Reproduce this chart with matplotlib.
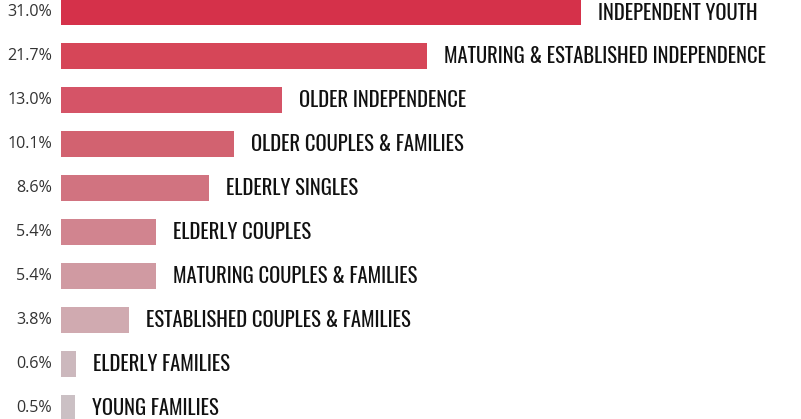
import matplotlib
matplotlib.use("Agg")
import matplotlib.pyplot as plt
from matplotlib import font_manager

categories = [
    "INDEPENDENT YOUTH",
    "MATURING & ESTABLISHED INDEPENDENCE",
    "OLDER INDEPENDENCE",
    "OLDER COUPLES & FAMILIES",
    "ELDERLY SINGLES",
    "ELDERLY COUPLES",
    "MATURING COUPLES & FAMILIES",
    "ESTABLISHED COUPLES & FAMILIES",
    "ELDERLY FAMILIES",
    "YOUNG FAMILIES",
]
shares = [31.0, 21.7, 13.0, 10.1, 8.6, 5.4, 5.4, 3.8, 0.6, 0.5]
share_labels = ["31.0%", "21.7%", "13.0%", "10.1%", "8.6%",
                "5.4%", "5.4%", "3.8%", "0.6%", "0.5%"]
bar_colors = ["#d5314a", "#d64658", "#d55467", "#d26270", "#d17380",
              "#d1848f", "#d09aa2", "#d0aab0", "#ccb8bd", "#cbc0c4"]

# pick a narrow face for the category labels if one is installed
fonts = font_manager.fontManager.ttflist
names = {f.name for f in fonts}
narrow = {f.name for f in fonts if f.stretch in ("condensed", "semi-condensed")}
label_font = dict(family="DejaVu Sans", fontweight="bold")
for cand in ["Oswald", "Roboto Condensed", "Open Sans Condensed", "Liberation Sans Narrow"]:
    if cand in names:
        label_font = dict(family=cand, fontweight="bold")
        break
else:
    if "DejaVu Sans" in narrow:
        label_font = dict(family="DejaVu Sans", fontstretch="condensed", fontweight="bold")

W, H, DPI = 801, 419, 100
fig = plt.figure(figsize=(W / DPI, H / DPI), dpi=DPI)
left_px = 61
min_px = 5.3        # bars carry a small stub past zero
px_per_unit = 16.6
ax = fig.add_axes([left_px / W, 0, 1 - left_px / W, 1])
x0 = -min_px / px_per_unit
ax.set_xlim(x0, x0 + (W - left_px) / px_per_unit)
row_px = 43.9
ax.set_ylim((H - 12.5) / row_px, -12.5 / row_px)
ax.axis("off")

ypos = list(range(len(categories)))
ax.barh(ypos, [v - x0 for v in shares], height=26 / row_px, color=bar_colors, left=x0)

cat_texts = []
for y, v, cat, lab in zip(ypos, shares, categories, share_labels):
    t = ax.annotate(cat, (v, y), xytext=(12.3, 0), textcoords="offset points",
                    ha="left", va="center", color="#111111", fontsize=13, **label_font)
    cat_texts.append(t)
    ax.annotate(lab, (x0, y), xytext=(-6.5, 0), textcoords="offset points",
                ha="right", va="center", color="#333333", fontsize=11.6,
                family="Open Sans", clip_on=False)

# scale the category labels so the longest one spans close to the reference
fig.canvas.draw()
renderer = fig.canvas.get_renderer()
w_long = cat_texts[1].get_window_extent(renderer).width
scale = 322 / w_long
for t in cat_texts:
    t.set_fontsize(13 * scale)

fig.savefig("out.png", dpi=DPI)
